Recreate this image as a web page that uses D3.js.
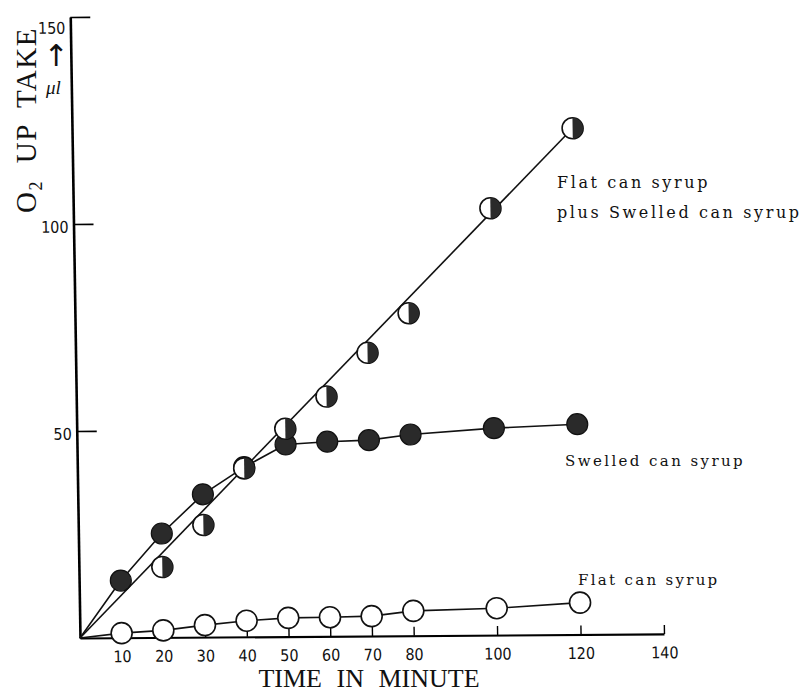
<!DOCTYPE html>
<html>
<head>
<meta charset="utf-8">
<script src="https://cdn.jsdelivr.net/npm/d3@7"></script>
<style>
  body { margin: 0; background: #fff; }
  svg { display: block; }
</style>
</head>
<body>
<svg id="chart"></svg>
<script>
// размеры окна
const width = 812;
const height = 693;

// данные
const times = [10, 20, 30, 40, 50, 60, 70, 80, 100, 120];
const flatVals = [1.1, 1.7, 2.9, 3.9, 4.5, 4.6, 4.8, 6.0, 6.5, 7.7];
const swelledVals = [13.8, 25.1, 34.5, 41.0, 46.4, 47.0, 47.3, 48.6, 50.0, 50.8];
const mixTimes = [20, 30, 40, 50, 60, 70, 80, 100, 120];
const mixVals = [17.0, 27.1, 40.7, 50.2, 57.9, 68.4, 77.9, 103.1, 122.3];
// прямая, проведённая через точки смеси
const mixFitTimes = [0, 120];
const mixFitVals = [0, 122.3];

const xTicks = [10, 20, 30, 40, 50, 60, 70, 80, 100, 120, 140];
const yTicks = [50, 100, 150];

let svg = d3.select("#chart")
  .attr("width", width)
  .attr("height", height);

const x = d3.scaleLinear().domain([0, 140]).range([80, 664]);
const y = d3.scaleLinear().domain([0, 150]).range([638, 17]);

// скан слегка перекошен: поворот и сдвиг относительно начала координат
let plot = svg.append("g")
  .attr("transform", `translate(${x(0)}, ${y(0)}) rotate(-0.4) skewX(0.5) translate(${-x(0)}, ${-y(0)})`);

// ось X
let xAxis = plot.append("g")
  .attr("transform", `translate(0, ${y(0)})`)
  .call(d3.axisBottom(x).tickValues(xTicks).tickSizeInner(-9).tickSizeOuter(0).tickPadding(13));
xAxis.select(".domain").attr("stroke-width", 2.2);
xAxis.selectAll(".tick line").attr("stroke-width", 1.4);
xAxis.selectAll("text")
  .style("font-family", "'DejaVu Sans Condensed', 'DejaVu Sans', sans-serif")
  .style("font-size", "16px")
  .attr("fill", "#111");

// ось Y
let yAxis = plot.append("g")
  .attr("transform", `translate(${x(0)}, 0)`)
  .call(d3.axisLeft(y).tickValues(yTicks).tickSizeInner(-20).tickSizeOuter(0).tickPadding(5));
yAxis.select(".domain").attr("stroke-width", 2.6);
yAxis.selectAll(".tick line").attr("stroke-width", 1.6);
yAxis.selectAll("text")
  .style("font-family", "'DejaVu Sans Condensed', 'DejaVu Sans', sans-serif")
  .style("font-size", "16px")
  .attr("fill", "#111")
  .attr("dy", d => d === 150 ? "1.0em" : "0.5em");

// линии
const line = d3.line()
  .x(d => x(d[0]))
  .y(d => y(d[1]));

const flatLine = [[0, 0]].concat(times.map((t, i) => [t, flatVals[i]]));
const swelledLine = [[0, 0]].concat(times.map((t, i) => [t, swelledVals[i]]));
const mixLine = mixFitTimes.map((t, i) => [t, mixFitVals[i]]);

[flatLine, swelledLine, mixLine].forEach(pts => {
  plot.append("path")
    .attr("d", line(pts))
    .attr("fill", "none")
    .attr("stroke", "#111")
    .attr("stroke-width", 1.6);
});

const r = 10.5;

// пустые кружки
plot.append("g").selectAll("circle")
  .data(times.map((t, i) => [t, flatVals[i]]))
  .join("circle")
  .attr("cx", d => x(d[0]))
  .attr("cy", d => y(d[1]))
  .attr("r", r)
  .attr("fill", "#fff")
  .attr("stroke", "#111")
  .attr("stroke-width", 1.6);

// закрашенные кружки
plot.append("g").selectAll("circle")
  .data(times.map((t, i) => [t, swelledVals[i]]))
  .join("circle")
  .attr("cx", d => x(d[0]))
  .attr("cy", d => y(d[1]))
  .attr("r", r)
  .attr("fill", "#2a2a2a")
  .attr("stroke", "#111")
  .attr("stroke-width", 1.2);

// наполовину закрашенные кружки
const halfArc = d3.arc().innerRadius(0).outerRadius(r).startAngle(0).endAngle(Math.PI);
let half = plot.append("g").selectAll("g")
  .data(mixTimes.map((t, i) => [t, mixVals[i]]))
  .join("g")
  .attr("transform", d => `translate(${x(d[0])}, ${y(d[1])})`);
half.append("circle")
  .attr("r", r)
  .attr("fill", "#fff")
  .attr("stroke", "#111")
  .attr("stroke-width", 1.6);
half.append("path")
  .attr("d", halfArc())
  .attr("fill", "#2a2a2a");

// подписи кривых
const labelFont = "'DejaVu Serif', serif";
function label(txt, lx, ly, size, spacing) {
  svg.append("text")
    .attr("x", lx)
    .attr("y", ly)
    .style("font-family", labelFont)
    .style("font-size", size + "px")
    .style("letter-spacing", spacing + "px")
    .attr("fill", "#111")
    .text(txt);
}
label("Flat can syrup", 557, 188, 16, 2.6);
label("plus Swelled can syrup", 557, 218, 16, 2.6);
label("Swelled can syrup", 565, 466, 15, 2.4);
label("Flat can syrup", 578, 585, 15, 2.3);

// подпись оси X
svg.append("text")
  .attr("x", 369)
  .attr("y", 687)
  .attr("text-anchor", "middle")
  .style("font-family", "'Liberation Serif', 'Times New Roman', serif")
  .style("font-size", "26px")
  .style("word-spacing", "8px")
  .attr("fill", "#111")
  .text("TIME IN MINUTE");

// подпись оси Y
let yLab = svg.append("text")
  .attr("transform", "translate(36, 213) rotate(-90)")
  .style("font-family", "'Liberation Serif', 'Times New Roman', serif")
  .style("font-size", "29px")
  .style("letter-spacing", "1.5px")
  .style("word-spacing", "8px")
  .attr("fill", "#111");
yLab.append("tspan").text("O");
yLab.append("tspan").attr("font-size", "18px").attr("dy", 6).text("2");
yLab.append("tspan").attr("dy", -6).text(" UP TAKE");

// стрелка и единицы
svg.append("text")
  .attr("x", 56)
  .attr("y", 66)
  .attr("text-anchor", "middle")
  .style("font-family", "'DejaVu Sans', sans-serif")
  .style("font-size", "30px")
  .attr("fill", "#111")
  .text("↑");
svg.append("text")
  .attr("x", 46)
  .attr("y", 94)
  .style("font-family", "'Liberation Serif', serif")
  .style("font-style", "italic")
  .style("font-size", "19px")
  .attr("fill", "#111")
  .text("μl");
</script>
</body>
</html>
